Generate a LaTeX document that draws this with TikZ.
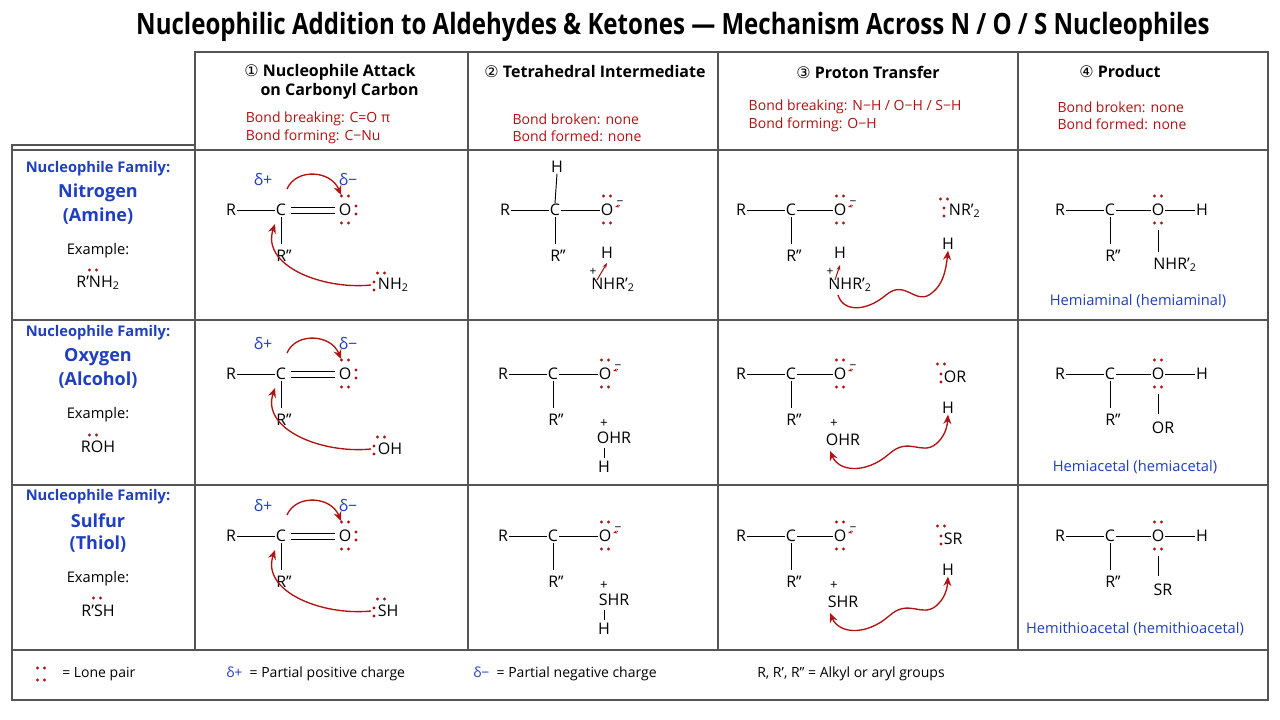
\documentclass[tikz,border=0pt]{standalone}
\usepackage{fontspec}
\setmainfont{Open Sans}
\newfontfamily\djv{DejaVu Sans}
\usetikzlibrary{arrows.meta}
\definecolor{cblue}{HTML}{1F3FBF}
\definecolor{cred}{HTML}{B01212}
\definecolor{grid}{HTML}{555555}
\tikzset{
 atm/.style={font=\fontsize{12}{14}\selectfont, inner sep=0.5pt},
 bnd/.style={line width=0.7pt, black},
 lpc/.style={fill=cred},
 rarr/.style={cred, line width=1pt, -{Stealth[length=7pt,width=6pt]}},
 hd/.style={font=\bfseries\fontsize{12}{14}\selectfont, align=center},
 rd/.style={font=\fontsize{10.5}{13}\selectfont, text=cred, align=left},
 fam/.style={font=\bfseries\fontsize{11}{13}\selectfont, text=cblue},
 famb/.style={font=\bfseries\fontsize{13.5}{16}\selectfont, text=cblue},
 lbl/.style={font=\fontsize{11}{13}\selectfont, text=cblue},
 lg/.style={font=\fontsize{10.5}{13}\selectfont, anchor=west, inner sep=0}
}
% lone pairs
\newcommand\lph[2]{\fill[lpc] (#1-3.5,#2) circle (1.7) (#1+3.5,#2) circle (1.7);}
\newcommand\lpv[2]{\fill[lpc] (#1,#2-4) circle (1.7) (#1,#2+4) circle (1.7);}
% skeleton: #1 = O x offset
\newcommand\skel[1]{%
 \node[atm] (R) at (-50,0) {R};
 \node[atm] (C) at (0,0) {C};
 \node[atm] (O) at (#1,0) {O};
 \node[atm] (Rpp) at (3,46) {R’’};
 \draw[bnd] (R) -- (C);
 \draw[bnd] (C.south) -- (0,34);
 \lph{#1}{-14}\lph{#1}{13}}
\newcommand\negch[1]{%
 \node[font=\fontsize{9}{9}\selectfont, inner sep=0] (neg) at (#1+13,-7) {−};
 \draw[cred, line width=0.6pt, -{Stealth[length=3pt]}] (neg.south) -- (#1+8,-3);}
% column 1
\newcommand\colA[1]{%
 \skel{64}
 \draw[bnd] (10,-3) -- (54,-3) (10,3) -- (54,3);
 \lpv{75}{0}
 \node[atm, text=cblue] (dp) at (-18,-30) {δ+};
 \node[atm, text=cblue] (dm) at (67,-30) {δ−};
 \node[atm, anchor=west] (nu) at (96,75) {#1};
 \lpv{93}{76}\lph{100}{63}
 \draw[rarr] (nu.west) ++(-6,0) .. controls (40,80) and (-20,55) .. (-6,14);
 \draw[rarr] (6,-21) .. controls (15,-42) and (50,-40) .. (60,-15);}
\begin{document}
\begin{tikzpicture}[x=0.75pt,y=-0.75pt]
\useasboundingbox (0,0) rectangle (1280,720);
\fill[white] (0,0) rectangle (1280,720);
% title
\node[font=\bfseries\fontsize{22}{26}\selectfont] (title) at (673,27) {\scalebox{0.82}[1]{Nucleophilic Addition to Aldehydes \& Ketones — Mechanism Across N / O / S Nucleophiles}};
% grid
\draw[grid, line width=0.9pt] (195,52) rectangle (1268,650);
\foreach \xx in {468,718,1018} \draw[grid, line width=0.9pt] (\xx,52) -- (\xx,650);
\draw[grid, line width=0.9pt] (12,150) -- (1268,150);
\draw[grid, line width=0.9pt] (12,320) -- (1268,320);
\draw[grid, line width=0.9pt] (12,485) -- (1268,485);
\draw[grid, line width=0.9pt] (12,145) rectangle (195,650);
\draw[grid, line width=0.9pt] (12,650) rectangle (1268,700);
% headers
\node[hd] (h1) at (330,82) {{\djv\mdseries ①} Nucleophile Attack\\ \hspace{1.2em}on Carbonyl Carbon};
\node[rd] (h1r) at (318,128) {Bond breaking: C=O π\\Bond forming: C−Nu};
\node[hd] (h2) at (595,72) {{\djv\mdseries ②} Tetrahedral Intermediate};
\node[rd] (h2r) at (577,128) {Bond broken: none\\Bond formed: none};
\node[hd] (h3) at (868,72) {{\djv\mdseries ③} Proton Transfer};
\node[rd, anchor=west] (h3r) at (744,116) {Bond breaking: N−H / O−H / S−H\\Bond forming: O−H};
\node[hd] (h4) at (1120,72) {{\djv\mdseries ④} Product};
\node[rd] (h4r) at (1122,116) {Bond broken: none\\Bond formed: none};
% left column
\foreach \yy/\nm/\pp/\ex in {0/Nitrogen/{(Amine)}/{R’NH\textsubscript{2}}, 164/Oxygen/{(Alcohol)}/ROH, 328/Sulfur/{(Thiol)}/R’SH}{
 \begin{scope}[yshift=-\yy*0.75pt]
 \node[fam] (f1) at (98,169) {Nucleophile Family:};
 \node[famb] (f2) at (98,193) {\nm};
 \node[famb] (f3) at (98,216) {\pp};
 \node[font=\fontsize{11}{13}\selectfont] (f4) at (98,251) {Example:};
 \node[atm] (f5) at (98,283) {\ex};
 \end{scope}}
\lph{93}{270}\lph{93}{435}\lph{97}{598}
% column 1
\begin{scope}[shift={(281,210)}]\colA{NH\textsubscript{2}}\end{scope}
\begin{scope}[shift={(281,374)}]\colA{OH}\end{scope}
\begin{scope}[shift={(281,536)}]\colA{SH}\end{scope}
% column 2
\begin{scope}[shift={(555,210)}]
 \skel{52}\draw[bnd] (C) -- (O);\negch{52}
 \node[atm] (Ht) at (2,-43) {H}; \draw[bnd] (C.north) -- (Ht.south);
 \node[atm] (H2) at (52,43) {H};
 \node[atm] (nh) at (58,75) {NHR’\textsubscript{2}};
 \node[font=\fontsize{9}{9}\selectfont] (pl) at (38,62) {+};
 \draw[cred, line width=0.8pt, -{Stealth[length=4pt]}] (42,70) -- (52,53);
\end{scope}
\foreach \yy/\el in {374/O,536/S}{
\begin{scope}[shift={(553,\yy)}]
 \skel{52}\draw[bnd] (C) -- (O);\negch{52}
 \node[font=\fontsize{10}{10}\selectfont] (pl) at (51,50) {+};
 \node[atm] (oh) at (61,64) {\el HR};
 \draw[bnd] (51,74) -- (51,84);
 \node[atm] (Hb) at (51,93) {H};
\end{scope}}
% column 3
\begin{scope}[shift={(791,210)}]
 \skel{49}\draw[bnd] (C) -- (O);\negch{49}
 \node[atm] (H2) at (49,43) {H};
 \node[atm] (nh) at (59,75) {NHR’\textsubscript{2}};
 \node[font=\fontsize{9}{9}\selectfont] (pl) at (39,62) {+};
 \draw[cred, line width=0.8pt, -{Stealth[length=4pt]}] (44,70) -- (49,55);
 \node[atm, anchor=west] (nr) at (157,1) {NR’\textsubscript{2}};
 \lpv{153}{2}\lph{153}{-11}
 \node[atm] (Hr) at (157,34) {H};
 \draw[rarr] (47,85) .. controls (52,102) and (75,102) .. (95,85) .. controls (115,68) and (125,98) .. (142,82) .. controls (152,74) and (155,60) .. (Hr.south);
\end{scope}
\foreach \yy/\el in {374/O,536/S}{
\begin{scope}[shift={(791,\yy)}]
 \skel{49}\draw[bnd] (C) -- (O);\negch{49}
 \node[font=\fontsize{10}{10}\selectfont] (pl) at (43,50) {+};
 \node[atm] (oh) at (52,66) {\el HR};
 \node[atm, anchor=west] (orr) at (152,3) {\el R};
 \lpv{150}{4}\lph{150}{-10}
 \node[atm] (Hr) at (157,34) {H};
 \draw[rarr, {Stealth[length=7pt,width=6pt]}-{Stealth[length=7pt,width=6pt]}] (39,77) .. controls (48,98) and (75,100) .. (98,80) .. controls (118,62) and (130,82) .. (145,70) .. controls (152,64) and (156,56) .. (Hr.south);
\end{scope}}
% column 4
\begin{scope}[shift={(1110,210)}]
 \skel{48}\draw[bnd] (C) -- (O);
 \node[atm] (Hp) at (92,0) {H}; \draw[bnd] (O) -- (Hp);
 \draw[bnd] (48,20) -- (48,42);
 \node[atm] (sub) at (65,55) {NHR’\textsubscript{2}};
 \node[lbl] (lab) at (28,91) {Hemiaminal (hemiaminal)};
\end{scope}
\foreach \yy/\sb/\lb in {374/OR/{Hemiacetal (hemiacetal)},536/SR/{Hemithioacetal (hemithioacetal)}}{
\begin{scope}[shift={(1110,\yy)}]
 \skel{48}\draw[bnd] (C) -- (O);
 \node[atm] (Hp) at (92,0) {H}; \draw[bnd] (O) -- (Hp);
 \draw[bnd] (48,20) -- (48,40);
 \node[atm] (sub) at (53,54) {\sb};
 \node[lbl] (lab) at (25,93) {\lb};
\end{scope}}
% legend
\lph{41}{668}\lph{41}{680}
\node[lg] (l1) at (62,674) {= Lone pair};
\node[lg] (l2) at (226,674) {\textcolor{cblue}{δ+} \ = Partial positive charge};
\node[lg] (l3) at (473,674) {\textcolor{cblue}{δ−} \ = Partial negative charge};
\node[lg] (l4) at (757,674) {R, R’, R’’ = Alkyl or aryl groups};
\end{tikzpicture}
\end{document}
